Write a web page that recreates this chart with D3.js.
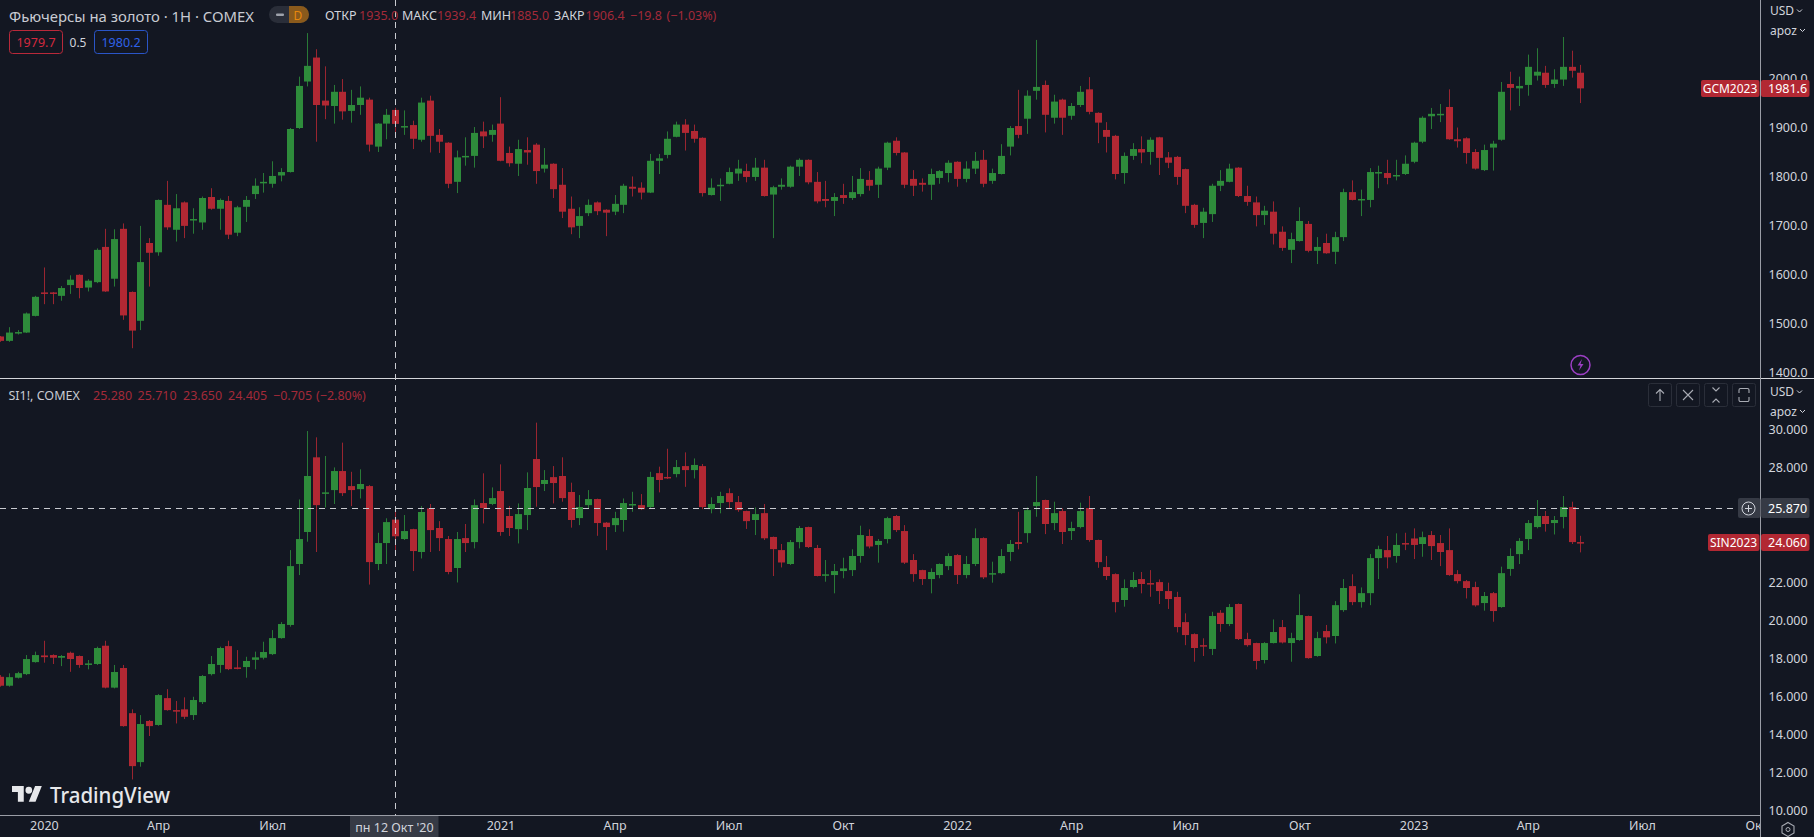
<!DOCTYPE html>
<html><head><meta charset="utf-8">
<script src="https://cdn.jsdelivr.net/npm/d3@7"></script>
<style>
html,body{margin:0;padding:0;background:#131722;overflow:hidden}
svg{display:block}
text{font-family:"Noto Sans",sans-serif}
.tick line{display:none}
</style></head><body>
<svg id="chart" width="1814" height="837"></svg>
<script>
// Weekly bars, first bar is the week of 2 Dec 2019
const firstWeek = "2019-12-02";
// [open, high, low, close]
const goldBars = [
[1472,1473,1461,1463],[1463,1491,1461,1480],[1480,1485,1476,1481],[1480,1521,1479,1519],[1514,1555,1513,1553],
[1562,1613,1538,1560],[1562,1563,1538,1560],[1555,1575,1545,1571],[1577,1597,1559,1588],[1598,1599,1550,1571],
[1572,1589,1564,1586],[1583,1652,1581,1649],[1655,1692,1563,1564],[1590,1691,1574,1671],[1692,1703,1506,1515],
[1563,1564,1448,1484],[1504,1698,1485,1624],[1663,1673,1574,1643],[1644,1752,1637,1751],[1741,1790,1690,1695],
[1690,1763,1666,1734],[1746,1748,1673,1698],[1710,1734,1682,1712],[1705,1758,1690,1755],[1757,1775,1731,1733],
[1733,1754,1690,1751],[1749,1759,1671,1680],[1684,1739,1677,1736],[1737,1759,1706,1751],[1763,1795,1753,1780],
[1787,1806,1766,1788],[1784,1830,1776,1800],[1801,1816,1789,1808],[1808,1898,1807,1896],[1898,2003,1896,1984],
[1993,2092,1983,2025],[2042,2059,1870,1945],[1954,2024,1916,1944],[1943,1986,1907,1972],[1972,1998,1915,1932],
[1933,1976,1909,1945],[1945,1983,1925,1960],[1956,1960,1850,1864],[1860,1908,1849,1907],[1907,1937,1875,1925],
[1935,1939.4,1885,1906.4],[1899,1934,1884,1902],[1904,1913,1855,1876],[1874,1960,1870,1950],[1954,1964,1848,1882],
[1884,1896,1847,1870],[1868,1869,1775,1784],[1788,1852,1765,1838],[1838,1879,1821,1841],[1841,1900,1817,1888],
[1891,1911,1857,1881],[1884,1905,1870,1894],[1907,1961,1830,1831],[1847,1860,1819,1826],[1825,1874,1800,1855],
[1853,1879,1823,1848],[1864,1867,1784,1810],[1815,1857,1807,1823],[1825,1826,1755,1773],[1782,1816,1714,1727],
[1733,1758,1681,1695],[1698,1736,1673,1718],[1724,1752,1718,1741],[1746,1748,1720,1728],[1731,1732,1677,1725],
[1727,1761,1720,1743],[1741,1784,1724,1780],[1778,1799,1758,1774],[1776,1787,1752,1766],[1766,1845,1765,1831],
[1831,1845,1804,1836],[1843,1891,1836,1876],[1880,1911,1879,1905],[1905,1916,1852,1888],[1892,1905,1868,1876],
[1878,1879,1758,1765],[1761,1795,1760,1776],[1780,1795,1749,1782],[1784,1817,1783,1808],[1805,1833,1790,1815],
[1810,1825,1787,1798],[1798,1837,1790,1817],[1817,1833,1758,1759],[1762,1780,1673,1777],[1778,1795,1772,1782],
[1778,1821,1776,1819],[1819,1836,1800,1833],[1833,1834,1783,1787],[1788,1808,1744,1748],[1753,1790,1736,1749],
[1749,1765,1718,1757],[1761,1784,1743,1755],[1755,1800,1751,1767],[1763,1816,1758,1794],[1792,1810,1770,1780],
[1782,1819,1755,1815],[1817,1870,1812,1868],[1872,1879,1842,1847],[1848,1849,1775,1782],[1794,1812,1759,1780],
[1786,1795,1768,1782],[1782,1815,1751,1804],[1796,1812,1784,1810],[1806,1832,1787,1827],[1829,1830,1778,1794],
[1794,1830,1787,1815],[1815,1849,1804,1831],[1833,1853,1777,1784],[1790,1815,1784,1806],[1804,1865,1803,1841],
[1860,1902,1842,1898],[1902,1976,1877,1884],[1917,1975,1886,1964],[1974,2078,1956,1982],[1986,1995,1889,1925],
[1919,1966,1907,1952],[1956,1958,1884,1919],[1923,1949,1915,1943],[1945,1984,1941,1972],[1977,2002,1926,1931],
[1929,1930,1867,1909],[1894,1910,1848,1880],[1882,1884,1793,1804],[1806,1848,1784,1841],[1841,1867,1833,1855],
[1855,1881,1826,1848],[1849,1879,1823,1874],[1879,1880,1802,1837],[1838,1849,1816,1827],[1839,1841,1782,1798],
[1814,1815,1724,1739],[1741,1743,1694,1700],[1704,1735,1673,1727],[1722,1784,1706,1780],[1780,1812,1769,1790],
[1788,1825,1787,1815],[1817,1818,1757,1759],[1759,1780,1739,1747],[1746,1758,1697,1720],[1720,1739,1700,1729],
[1727,1748,1660,1682],[1686,1697,1647,1653],[1649,1684,1622,1671],[1667,1736,1666,1708],[1702,1708,1644,1647],
[1647,1675,1620,1655],[1663,1682,1641,1642],[1645,1686,1620,1675],[1675,1774,1667,1767],[1767,1791,1750,1751],
[1750,1772,1718,1753],[1751,1816,1736,1808],[1807,1821,1775,1808],[1806,1833,1783,1796],[1800,1833,1791,1802],
[1804,1842,1802,1825],[1829,1870,1826,1868],[1870,1922,1867,1919],[1922,1939,1896,1927],[1926,1947,1910,1927],
[1941,1977,1874,1875],[1875,1899,1858,1871],[1877,1879,1825,1847],[1849,1855,1813,1815],[1812,1864,1810,1853],
[1858,1872,1811,1866],[1874,1992,1872,1972],[1988,2013,1934,1980],[1979,2003,1943,1984],[1986,2048,1964,2023],
[2005,2061,1995,2013],[2011,2025,1980,1986],[1988,2018,1980,1997],[1997,2084,1984,2023],[2023,2056,2001,2015],
[2011,2027,1949,1979]
];
const silverBars = [
[17.03,17.12,16.51,16.56],[16.56,17.21,16.51,17.01],[16.98,17.29,16.94,17.22],[17.17,18.17,17.12,17.96],[17.80,18.35,17.77,18.17],
[18.15,18.92,17.77,18.06],[18.17,18.21,17.70,18.03],[18.03,18.17,17.59,18.12],[18.29,18.35,17.29,17.96],[18.12,18.15,17.50,17.65],
[17.68,17.91,17.42,17.73],[17.70,18.61,17.65,18.54],[18.66,18.92,16.42,16.46],[16.46,17.65,16.42,17.28],[17.49,17.65,14.41,14.44],
[15.12,15.32,11.64,12.34],[12.55,15.02,12.31,14.55],[14.71,14.76,13.92,14.44],[14.50,16.12,14.46,16.07],[15.91,16.38,15.25,15.28],
[15.28,15.76,14.58,15.25],[15.32,15.95,14.81,14.93],[15.02,15.98,14.76,15.81],[15.70,17.12,15.60,17.07],[17.17,18.12,17.10,17.70],
[17.65,18.61,17.24,18.54],[18.64,18.92,17.38,17.43],[17.52,18.43,17.42,17.45],[17.54,18.08,16.98,17.86],[17.92,18.35,17.42,18.05],
[18.03,18.87,17.94,18.33],[18.22,19.48,18.17,19.06],[19.06,19.90,19.03,19.80],[19.75,23.68,19.66,22.84],[22.95,26.34,22.37,24.26],
[24.63,29.93,24.12,27.57],[28.55,29.60,23.58,26.04],[26.64,28.62,25.92,26.71],[26.83,28.02,26.10,27.83],[27.83,29.32,26.52,26.67],
[27.04,27.79,25.99,26.83],[26.88,27.92,26.39,27.15],[27.04,27.09,21.87,23.05],[22.95,24.59,22.63,24.05],[24.05,25.35,22.95,25.15],
[25.28,25.71,23.65,24.405],[24.26,25.52,24.21,24.68],[24.78,24.80,22.58,23.63],[23.58,25.99,23.24,25.68],[25.87,26.10,23.58,24.73],
[24.84,25.20,23.63,24.31],[24.26,24.42,22.41,22.53],[22.74,24.63,21.98,24.26],[24.31,25.05,23.58,24.05],[24.10,26.34,23.77,26.04],
[26.15,27.71,25.08,25.89],[26.10,26.97,26.04,26.41],[26.78,28.18,24.43,24.63],[25.47,25.99,24.42,24.84],[24.78,26.13,24.03,25.57],
[25.52,27.76,24.73,26.94],[28.46,30.37,25.96,26.99],[27.15,27.88,26.78,27.36],[27.51,28.09,26.13,27.20],[27.57,28.55,26.22,26.41],
[26.73,27.22,24.86,25.26],[25.36,26.57,24.99,25.94],[26.04,26.83,25.87,26.36],[26.36,26.38,24.43,25.10],[25.12,25.15,23.68,24.89],
[24.99,25.69,24.63,25.36],[25.26,26.39,24.65,26.15],[26.04,26.74,25.69,26.10],[26.04,26.62,25.78,25.83],[25.94,27.79,25.87,27.52],
[27.72,28.06,26.71,27.36],[27.52,29.00,27.41,27.46],[27.67,28.41,27.50,28.04],[28.09,28.81,27.00,27.88],[27.88,28.49,27.44,28.15],
[28.09,28.20,25.83,25.94],[25.83,26.45,25.61,26.10],[26.15,26.74,25.61,26.52],[26.67,26.92,25.87,26.20],[26.20,26.52,25.69,25.78],
[25.73,25.75,24.79,25.20],[25.26,25.92,24.47,25.57],[25.62,26.10,24.21,24.30],[24.37,24.39,22.32,23.73],[23.68,24.00,22.77,23.03],
[22.95,24.21,22.90,24.10],[24.10,24.94,23.77,24.84],[24.89,24.91,23.79,23.84],[23.79,23.95,22.30,22.32],[22.33,23.16,22.02,22.41],
[22.37,22.95,21.41,22.58],[22.58,23.28,22.20,22.72],[22.63,23.72,22.32,23.37],[23.37,24.96,23.02,24.47],[24.42,24.77,23.77,23.87],
[23.95,24.26,23.02,24.16],[24.26,25.43,24.03,25.36],[25.47,25.52,24.63,24.73],[24.68,24.99,22.95,23.02],[23.16,23.47,22.02,22.42],
[22.63,22.65,21.85,22.16],[22.16,22.72,21.41,22.53],[22.37,22.98,22.20,22.95],[22.84,23.51,22.63,23.37],[23.42,23.47,21.90,22.37],
[22.37,23.37,22.20,22.95],[22.95,24.82,22.84,24.31],[24.31,24.35,22.16,22.25],[22.42,23.07,21.97,22.47],[22.47,23.73,22.42,23.37],
[23.58,24.21,23.10,24.00],[24.10,25.69,23.72,24.00],[24.57,25.92,24.07,25.78],[25.99,27.57,25.43,26.20],[26.31,26.33,24.52,25.05],
[25.10,26.22,24.73,25.62],[25.73,25.87,24.00,24.63],[24.68,25.17,24.21,24.84],[24.89,26.17,24.82,25.73],[25.89,26.52,24.12,24.21],
[24.21,24.23,22.75,23.05],[22.79,23.37,22.11,22.32],[22.42,22.46,20.41,20.95],[21.06,22.14,20.71,21.69],[21.74,22.53,21.67,22.11],
[22.16,22.53,21.41,21.90],[21.95,22.63,21.23,21.90],[22.00,22.14,20.85,21.53],[21.53,21.97,20.59,21.11],[21.22,21.49,19.36,19.64],
[19.90,20.36,18.69,19.22],[19.27,19.31,17.82,18.54],[18.69,19.05,18.12,18.64],[18.49,20.44,18.17,20.22],[20.39,20.53,19.39,19.80],
[19.80,20.85,19.69,20.69],[20.85,20.88,18.96,19.01],[19.01,19.34,18.61,18.69],[18.80,18.82,17.42,17.86],[17.91,18.85,17.73,18.80],
[18.80,20.04,18.78,19.38],[19.64,20.01,18.78,18.83],[18.80,19.34,17.82,19.06],[18.96,21.36,18.92,20.27],[20.22,20.24,17.98,18.01],
[18.12,19.39,18.08,19.06],[19.43,19.75,18.78,19.10],[19.17,21.00,18.78,20.79],[20.53,22.16,20.44,21.69],[21.79,22.41,20.79,20.95],
[20.95,21.72,20.66,21.42],[21.42,23.47,20.79,23.26],[23.26,23.91,22.16,23.73],[23.68,24.42,22.72,23.30],[23.37,24.56,23.02,23.95],
[24.05,24.59,23.68,24.01],[24.29,24.82,23.21,23.95],[24.00,24.65,23.33,24.36],[24.47,24.68,23.16,23.89],[24.05,24.47,22.84,23.58],
[23.68,24.82,22.33,22.37],[22.42,22.63,21.93,22.05],[22.05,22.11,21.14,21.69],[21.74,22.02,20.71,20.78],[20.90,21.48,20.50,21.27],
[21.42,21.48,19.92,20.48],[20.69,22.81,20.65,22.47],[22.69,23.77,22.33,23.37],[23.47,24.31,22.95,24.16],[24.26,25.26,23.68,25.10],
[24.89,26.31,24.82,25.47],[25.47,25.73,24.65,25.05],[25.10,25.47,24.50,25.26],[25.42,26.52,24.82,25.94],[25.94,26.22,24.00,24.10],
[24.10,24.43,23.56,24.06]
];
const goldTicks = [1400,1500,1600,1700,1800,1900,2000];
const silverTicks = [10,12,14,16,18,20,22,28,30];
const timeTickDates = ["2020-01-06","2020-04-06","2020-07-06","2021-01-04","2021-04-05","2021-07-05","2021-10-04","2022-01-03","2022-04-04","2022-07-04","2022-10-03","2023-01-02","2023-04-03","2023-07-03","2023-10-02"];
const timeTickLabels = ["2020","Апр","Июл","2021","Апр","Июл","Окт","2022","Апр","Июл","Окт","2023","Апр","Июл","Окт"];
const goldLegendNames = ["ОТКР","МАКС","МИН","ЗАКР"];
const goldLegendValues = ["1935.0","1939.4","1885.0","1906.4"];
const silverLegendValues = ["25.280","25.710","23.650","24.405"];
const crossDate = "2020-10-12";
const crossPrice = 25.87;

const BG="#131722", UP="#2e8c3b", DOWN="#b22833", TXT="#d1d4dc", DIM="#a32a39", TAG="#b22833";
const W=1814, H=837, axisX=1760.5, sep=378.5, bottom=815.5;
const svg=d3.select("#chart");
svg.append("rect").attr("width",W).attr("height",H).attr("fill",BG);

const parse=d3.utcParse("%Y-%m-%d");
const t0=parse(firstWeek);
const weekDate=i=>d3.utcDay.offset(t0,i*7);
const x=d3.scaleUtc().domain([t0,weekDate(180)]).range([0,1580.4]);
const yGold=d3.scaleLinear().domain([1400,2000]).range([371.7,78.1]);
const ySilver=d3.scaleLinear().domain([10,30]).range([810.7,429.7]);

function candles(rows,y,y0,y1,id){
  svg.append("clipPath").attr("id",id).append("rect").attr("x",0).attr("y",y0).attr("width",axisX).attr("height",y1-y0);
  const g=svg.append("g").attr("clip-path",`url(#${id})`);
  const c=g.selectAll("g").data(rows).join("g")
    .attr("fill",d=>d[3]>=d[0]?UP:DOWN).attr("stroke",d=>d[3]>=d[0]?UP:DOWN);
  c.append("line")
    .attr("x1",(d,i)=>Math.round(x(weekDate(i)))+.5).attr("x2",(d,i)=>Math.round(x(weekDate(i)))+.5)
    .attr("y1",d=>y(d[1])).attr("y2",d=>y(d[2])).attr("stroke-width",1).attr("stroke-opacity",.85);
  c.append("rect")
    .attr("x",(d,i)=>Math.round(x(weekDate(i)))-3).attr("width",7)
    .attr("y",d=>Math.min(y(d[0]),y(d[3])))
    .attr("height",d=>Math.max(1.5,Math.abs(y(d[0])-y(d[3])))).attr("stroke","none");
}
candles(goldBars,yGold,0,sep,"cg");
candles(silverBars,ySilver,sep,bottom,"cs");

// value axes
function valueAxis(scale,ticks,fmt,dy){
  const g=svg.append("g").attr("transform",`translate(${axisX},${dy})`)
    .call(d3.axisRight(scale).tickValues(ticks).tickFormat(fmt).tickSize(0).tickPadding(8));
  g.select(".domain").remove();
  g.selectAll("text").attr("fill",TXT).attr("font-size",12.5).attr("font-family",'"Noto Sans",sans-serif');
}
valueAxis(yGold,goldTicks,d3.format(".1f"),.6);
valueAxis(ySilver,silverTicks,d3.format(".3f"),0);

// time axis, clipped at the value axis
svg.append("clipPath").attr("id","ct").append("rect").attr("x",0).attr("y",bottom).attr("width",axisX).attr("height",H-bottom);
const tg=svg.append("g").attr("clip-path","url(#ct)").append("g").attr("transform",`translate(0,${bottom})`)
  .call(d3.axisBottom(x).tickValues(timeTickDates.map(parse)).tickFormat((d,i)=>timeTickLabels[i]).tickSize(0).tickPadding(6));
tg.select(".domain").remove();
tg.selectAll("text").attr("fill",TXT).attr("font-size",12.5).attr("font-family",'"Noto Sans",sans-serif');

// frame lines
const line=(x1,y1,x2,y2,s,w=1,d=null)=>svg.append("line").attr("x1",x1).attr("y1",y1).attr("x2",x2).attr("y2",y2).attr("stroke",s).attr("stroke-width",w).attr("stroke-dasharray",d);
line(0,sep,W,sep,"#d4d6da");
line(0,bottom,axisX,bottom,"#9a9da6");
line(axisX,0,axisX,H,"#9a9da6");

// crosshair
const cx=Math.round(x(parse(crossDate)))+.5, cy=Math.round(ySilver(crossPrice))+.5;
line(cx,0,cx,bottom,"#c8cad0",1,"6 5");
line(0,cy,1738,cy,"#c8cad0",1,"6 5");

function text(s,px,py,size,fill,anchor="start",weight=null){
  return svg.append("text").text(s).attr("x",px).attr("y",py).attr("font-size",size).attr("fill",fill)
    .attr("text-anchor",anchor).attr("dominant-baseline","central").attr("font-weight",weight);
}
function box(px,py,w,h,fill,r=0,stroke=null){
  return svg.append("rect").attr("x",px).attr("y",py).attr("width",w).attr("height",h).attr("rx",r).attr("fill",fill).attr("stroke",stroke);
}

// date pill
box(350,816,88.5,21,"#363a45");
text("пн 12 Окт '20",394.5,827,12.5,TXT,"middle");

// gold legend
text("Фьючерсы на золото · 1Н · COMEX",9,15.5,14.5,"#c8cbd3").attr("textLength",245).attr("lengthAdjust","spacingAndGlyphs");
box(269,6,40,17,"#2a2e39",8.5);
svg.append("path").attr("d","M289 6h11.5a8.5 8.5 0 0 1 0 17H289z").attr("fill","#8a5a1c");
box(276,13.5,8,2.5,"#9ea2ab",1);
text("D",298,15,12,"#e8890c","middle");
const glx=[325,402,481,554], gvx=[359,437,510,585.5];
goldLegendNames.forEach((n,i)=>{text(n,glx[i],15.5,12.5,TXT);text(goldLegendValues[i],gvx[i],15.5,12.5,DIM);});
text("−19.8",630,15.5,12.5,DIM);
text("(−1.03%)",666.5,15.5,12.5,DIM);

// order badges
box(9.5,30.5,53,23,"none",3,"#b9293a");
text("1979.7",36,42.5,12.5,"#d3293f","middle");
text("0.5",78,42,12,TXT,"middle");
box(94.5,30.5,53,23,"none",3,"#2a55c8");
text("1980.2",121,42.5,12.5,"#2f62e8","middle");

// silver legend
text("SI1!, COMEX",8.5,395.5,12.5,"#c8cbd3");
[93,137.5,183,228].forEach((px,i)=>text(silverLegendValues[i],px,395.5,12.5,DIM));
text("−0.705",273,395.5,12.5,DIM);
text("(−2.80%)",316,395.5,12.5,DIM);

// currency & unit
[[10.5,30],[391.5,411]].forEach(([a,b])=>{
  text("USD",1770,a,12,TXT);
  text("apoz",1770,b,12,TXT);
  svg.append("path").attr("d",`M1797 ${a-1}l2.5 2.5 2.5-2.5`).attr("fill","none").attr("stroke",TXT);
  svg.append("path").attr("d",`M1800 ${b-1}l2.5 2.5 2.5-2.5`).attr("fill","none").attr("stroke",TXT);
});

// price tags
box(1701,80,58.5,17,TAG,2);
text("GCM2023",1730,88.5,12,"#fff","middle");
box(1761,80,48.5,17,TAG,2);
text("1981.6",1768,88.5,12.5,"#fff");
box(1708,534,51.5,17,TAG,2);
text("SIN2023",1733.5,542.5,12,"#fff","middle");
box(1761,534,48.5,17,TAG,2);
text("24.060",1768,542.5,12.5,"#fff");
// crosshair price tag
box(1738,498,22.5,20,"#363a45",2);
box(1761,498,48.5,20,"#363a45",2);
text("25.870",1768,508,12.5,"#fff");
svg.append("circle").attr("cx",1748.5).attr("cy",508.5).attr("r",6.5).attr("fill","none").attr("stroke",TXT);
svg.append("path").attr("d","M1745 508.5h7M1748.5 505v7").attr("stroke",TXT);

// pane buttons
[1648,1676,1704,1732].forEach(px=>box(px+.5,383.5,23,23,"none",2,"#2a2e39"));
const ic=(d)=>svg.append("path").attr("d",d).attr("fill","none").attr("stroke","#a8abb3").attr("stroke-width",1.1);
ic("M1660 401v-11M1656 393.5l4-4 4 4");
ic("M1683 390l10 10M1693 390l-10 10");
ic("M1712.5 387.5l3.5 3.5 3.5-3.5M1712.5 402.5l3.5-3.5 3.5 3.5");
ic("M1739 393v-3a1.5 1.5 0 0 1 1.5-1.5h7a1.5 1.5 0 0 1 1.5 1.5v3M1739 397v3a1.5 1.5 0 0 0 1.5 1.5h7a1.5 1.5 0 0 0 1.5-1.5v-3");

// lightning badge
svg.append("circle").attr("cx",1580.5).attr("cy",365).attr("r",9.5).attr("fill","none").attr("stroke","#9c3fc4").attr("stroke-width",1.5);
svg.append("path").attr("d","M1582 359l-4.5 6.5h3l-1.5 5 4.5-6.5h-3z").attr("fill","#9c3fc4");

// gear
svg.append("path").attr("d","M1788 822.5l6 3.5v7l-6 3.5-6-3.5v-7z").attr("fill","none").attr("stroke","#a8abb3").attr("stroke-width",1.1);
svg.append("circle").attr("cx",1788).attr("cy",829.5).attr("r",2).attr("fill","none").attr("stroke","#a8abb3");

// logo
svg.append("g").attr("transform","translate(12,782.5) scale(.84,.87)").attr("fill","#e6e7ea")
  .append("path").attr("d","M14 22H7V11H0V4h14v18zM28 22h-8l7.5-18h8L28 22zM24 9a4 4 0 1 1-8 0 4 4 0 0 1 8 0z");
text("TradingView",50,794,22,"#e6e7ea","start",500).attr("font-family","Inter, sans-serif").attr("textLength",120).attr("lengthAdjust","spacingAndGlyphs");
</script>
</body></html>
